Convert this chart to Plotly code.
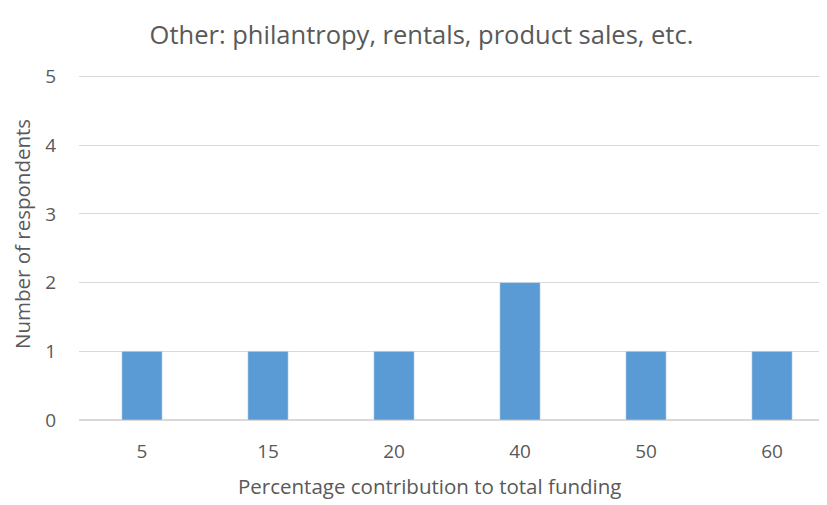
import plotly.graph_objects as go

categories = ["5", "15", "20", "40", "50", "60"]
respondents = [1, 1, 1, 2, 1, 1]

txt = "#595959"
fnt = "Open Sans, Liberation Sans, sans-serif"

fig = go.Figure()
fig.add_bar(x=categories, y=respondents, marker_color="#5B9BD5", width=0.32)

fig.update_layout(
    width=827, height=505,
    paper_bgcolor="white", plot_bgcolor="white",
    margin=dict(l=71, r=0, t=65, b=93),
    title=dict(text="Other: philantropy, rentals, product sales, etc.",
               x=0.5, xanchor="center", y=0.9465, yanchor="middle",
               font=dict(family=fnt, size=25.5, color=txt)),
    font=dict(family=fnt, size=19, color=txt),
    showlegend=False,
)
fig.update_xaxes(type="category", range=[-0.5, 5.5], showgrid=False,
                 showline=False, ticks="", ticklabelstandoff=18,
                 automargin=False, tickfont=dict(size=19, color=txt))
fig.update_yaxes(range=[0, 5.05], tickvals=[0, 1, 2, 3, 4, 5],
                 showgrid=True, gridcolor="#D9D9D9",
                 gridwidth=1, zeroline=True, zerolinecolor="#D9D9D9",
                 ticks="", ticklabelstandoff=22, automargin=False,
                 tickfont=dict(size=19, color=txt))

# axis titles placed as annotations to match the reference offsets
fig.add_annotation(text="Percentage contribution to total funding",
                   xref="paper", yref="paper", x=0.464, y=-0.19,
                   xanchor="center", yanchor="middle", showarrow=False,
                   font=dict(family=fnt, size=20.5, color=txt))
fig.add_annotation(text="Number of respondents", textangle=-90,
                   xref="paper", yref="paper", x=-0.0754, y=0.536,
                   xanchor="center", yanchor="middle", showarrow=False,
                   font=dict(family=fnt, size=20.5, color=txt))

fig.write_html("out.html")
